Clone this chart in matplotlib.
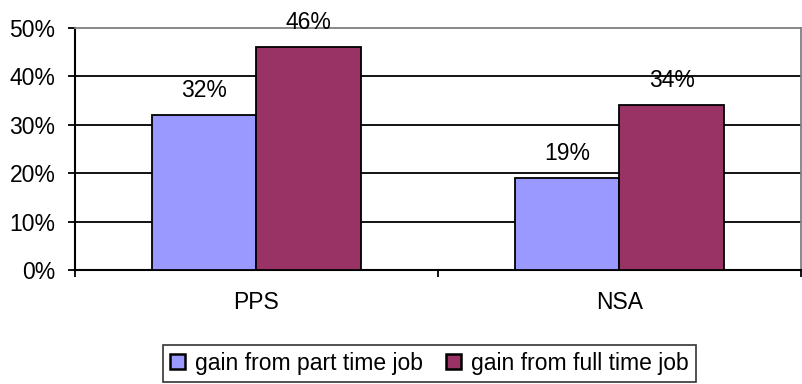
import matplotlib
matplotlib.use("Agg")
import matplotlib.pyplot as plt
import numpy as np

plt.rcParams["font.family"] = ["Liberation Sans", "DejaVu Sans"]

CATEGORIES = ["PPS", "NSA"]
PART_TIME = [32, 19]
FULL_TIME = [46, 34]
SERIES = [
    ("gain from part time job", PART_TIME, "#9999FF"),
    ("gain from full time job", FULL_TIME, "#993366"),
]
Y_TICKS = [0, 10, 20, 30, 40, 50]
FS = 16.5

fig = plt.figure(figsize=(8.03, 3.84), dpi=100)
ax = fig.add_axes([75 / 803, 1 - 270 / 384, 726 / 803, 242 / 384])

x = np.arange(len(CATEGORIES))
w = 0.287
for i, (label, vals, color) in enumerate(SERIES):
    pos = x + (i - 0.5) * w
    bars = ax.bar(pos, vals, width=w, color=color, edgecolor="black",
                  linewidth=1.3, label=label, zorder=3)
    for b, v in zip(bars, vals):
        ax.annotate(f"{v}%", (b.get_x() + b.get_width() / 2, v),
                    xytext=(0, 13), textcoords="offset points",
                    ha="center", va="baseline", fontsize=FS, zorder=4)

ax.set_xlim(-0.5, 1.5)
ax.set_ylim(0, 50)
ax.set_yticks(Y_TICKS)
ax.set_yticklabels([f"{t}%" for t in Y_TICKS], fontsize=FS)
for t in Y_TICKS[1:-1]:
    ax.axhline(t, color="black", linewidth=1.3, zorder=1)

ax.set_xticks([0, 1])
ax.set_xticklabels(CATEGORIES, fontsize=FS)
ax.set_xticks([-0.5, 0.5, 1.5], minor=True)
ax.tick_params(axis="x", which="major", length=0, pad=15)
ax.tick_params(axis="x", which="minor", length=5, width=1.3, direction="out")
ax.tick_params(axis="y", length=5, width=1.3, direction="out", pad=9)

for side in ("left", "bottom"):
    ax.spines[side].set_linewidth(1.5)
    ax.spines[side].set_color("black")
for side in ("top", "right"):
    ax.spines[side].set_linewidth(1.3)
    ax.spines[side].set_color("#808080")

leg = fig.legend(loc="upper left", bbox_to_anchor=(163 / 803, 1 - 345 / 384),
                 ncol=2, fontsize=FS, frameon=True, fancybox=False,
                 handlelength=0.65, handleheight=0.65, handletextpad=0.45,
                 columnspacing=1.0, borderpad=0.3, borderaxespad=0)
leg.get_frame().set_edgecolor("black")
leg.get_frame().set_linewidth(1.2)
for h in leg.legend_handles:
    h.set_linewidth(1.8)

fig.savefig("out.png", dpi=100, facecolor="white")
